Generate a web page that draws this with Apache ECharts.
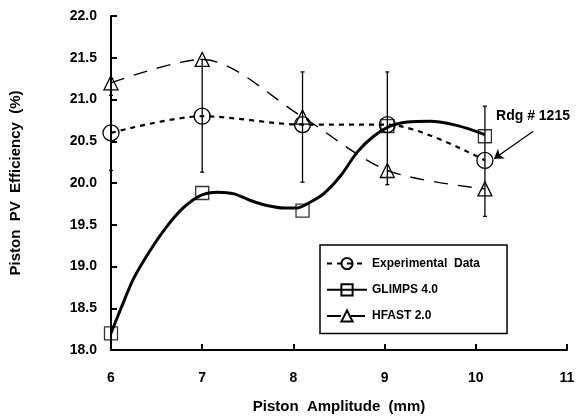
<!DOCTYPE html>
<html>
<head>
<meta charset="utf-8">
<script src="https://cdn.jsdelivr.net/npm/echarts@6/dist/echarts.min.js"></script>
<style>
  html, body { margin: 0; padding: 0; background: #fff; }
  #chart { width: 587px; height: 419px; }
</style>
</head>
<body>
<div id="chart"></div>
<script>
// amplitudes where the runs were taken
var runX = [6, 7, 8.1, 9.03, 10.1];

// measured efficiency and error bar limits
var expData = [20.6, 20.8, 20.7, 20.7, 20.27];
var errLow = [20.15, 20.13, 20.01, 19.98, 19.6];
var errHigh = [21.05, 21.48, 21.33, 21.33, 20.92];

// model points
var glimpsData = [18.2, 19.88, 19.67, 20.68, 20.56];
var hfastData = [21.2, 21.48, 20.79, 20.15, 19.93];

// GLIMPS curve as drawn
var glimpsCurveX = [6, 6.11, 6.25, 6.44, 6.62, 6.8, 6.98, 7.17, 7.35, 7.53, 7.71, 7.9, 8.04,
  8.15, 8.33, 8.52, 8.7, 8.88, 9.06, 9.25, 9.5, 9.79, 10.1];
var glimpsCurveY = [18.2, 18.5, 18.86, 19.21, 19.49, 19.71, 19.85, 19.89, 19.87, 19.79, 19.73, 19.7, 19.7,
  19.75, 19.87, 20.09, 20.37, 20.56, 20.68, 20.73, 20.74, 20.69, 20.58];

var chart = echarts.init(document.getElementById("chart"));

function pts(xs, ys) {
  return xs.map(function (x, i) { return [x, ys[i]]; });
}

var font = "Liberation Sans, Arial, sans-serif";
var hollow = { color: "transparent", borderColor: "#000", borderWidth: 1.3 };

chart.setOption({
  animation: false,
  grid: { left: 110, right: 20, top: 16, bottom: 67 },
  legend: {
    orient: "vertical",
    left: 320,
    top: 245,
    padding: [12, 27, 11, 6],
    itemGap: 13,
    itemWidth: 40,
    itemHeight: 14,
    borderColor: "#000",
    borderWidth: 1.5,
    textStyle: { fontFamily: font, fontSize: 12, fontWeight: "bold", color: "#000" },
    data: ["Experimental  Data", "GLIMPS 4.0", "HFAST 2.0"]
  },
  xAxis: {
    type: "value",
    min: 6,
    max: 11,
    interval: 1,
    name: "Piston  Amplitude  (mm)",
    nameLocation: "middle",
    nameGap: 49,
    nameTextStyle: { fontFamily: font, fontSize: 15, color: "#000", fontWeight: "bold" },
    axisLine: { lineStyle: { color: "#000", width: 2 } },
    axisTick: { inside: true, length: 6, lineStyle: { color: "#000", width: 2 } },
    axisLabel: { margin: 21, fontFamily: font, fontSize: 14, fontWeight: "bold", color: "#000" },
    splitLine: { show: false }
  },
  yAxis: {
    type: "value",
    min: 18,
    max: 22,
    interval: 0.5,
    name: "Piston  PV  Efficiency  (%)",
    nameLocation: "middle",
    nameGap: 88,
    nameTextStyle: { fontFamily: font, fontSize: 15, color: "#000", fontWeight: "bold" },
    axisLine: { show: true, lineStyle: { color: "#000", width: 2 } },
    axisTick: { show: true, inside: true, length: 6, lineStyle: { color: "#000", width: 2 } },
    axisLabel: {
      margin: 14,
      fontFamily: font,
      fontSize: 14,
      fontWeight: "bold",
      color: "#000",
      formatter: function (v) { return v.toFixed(1); }
    },
    splitLine: { show: false }
  },
  series: [
    {
      name: "Experimental  Data",
      type: "line",
      smooth: 0.3,
      data: pts(runX, expData),
      symbol: "circle",
      symbolSize: 16,
      itemStyle: hollow,
      lineStyle: { color: "#000", width: 2.2, type: [5, 5] },
      markPoint: {
        symbol: "circle",
        symbolSize: 0,
        label: {
          show: true,
          position: "right",
          distance: 2,
          formatter: "Rdg # 1215",
          fontFamily: font,
          fontSize: 14,
          fontWeight: "bold",
          color: "#000"
        },
        data: [{ coord: [10.2, 20.8] }]
      },
      markLine: {
        symbol: ["none", "arrow"],
        symbolSize: 9,
        silent: true,
        label: { show: false },
        lineStyle: { color: "#000", width: 1.2, type: "solid" },
        data: [[{ coord: [10.63, 20.62] }, { coord: [10.2, 20.29] }]]
      },
      z: 3
    },
    {
      // curve only; the series symbol is kept for the legend icon
      name: "GLIMPS 4.0",
      type: "line",
      smooth: 0.3,
      data: pts(glimpsCurveX, glimpsCurveY).map(function (p) {
        return { value: p, symbol: "none" };
      }),
      symbol: "rect",
      symbolSize: 13,
      itemStyle: hollow,
      lineStyle: { color: "#000", width: 3 },
      z: 3
    },
    {
      name: "GLIMPS points",
      type: "scatter",
      data: pts(runX, glimpsData),
      symbol: "rect",
      symbolSize: 13,
      itemStyle: hollow,
      z: 4
    },
    {
      name: "HFAST 2.0",
      type: "line",
      smooth: 0.3,
      data: pts(runX, hfastData),
      symbol: "triangle",
      symbolSize: 14,
      itemStyle: hollow,
      lineStyle: { color: "#000", width: 1.4, type: [14, 10] },
      z: 3
    },
    {
      name: "error",
      type: "custom",
      silent: true,
      data: runX.map(function (x, i) { return [x, errLow[i], errHigh[i]]; }),
      renderItem: function (params, api) {
        var lo = api.coord([api.value(0), api.value(1)]);
        var hi = api.coord([api.value(0), api.value(2)]);
        var st = { stroke: "#000", lineWidth: 1.3 };
        return {
          type: "group",
          children: [
            { type: "line", shape: { x1: lo[0], y1: lo[1], x2: hi[0], y2: hi[1] }, style: st },
            { type: "line", shape: { x1: hi[0] - 2, y1: hi[1], x2: hi[0] + 2, y2: hi[1] }, style: st },
            { type: "line", shape: { x1: lo[0] - 2, y1: lo[1], x2: lo[0] + 2, y2: lo[1] }, style: st }
          ]
        };
      },
      z: 2
    }
  ]
});
</script>
</body>
</html>
